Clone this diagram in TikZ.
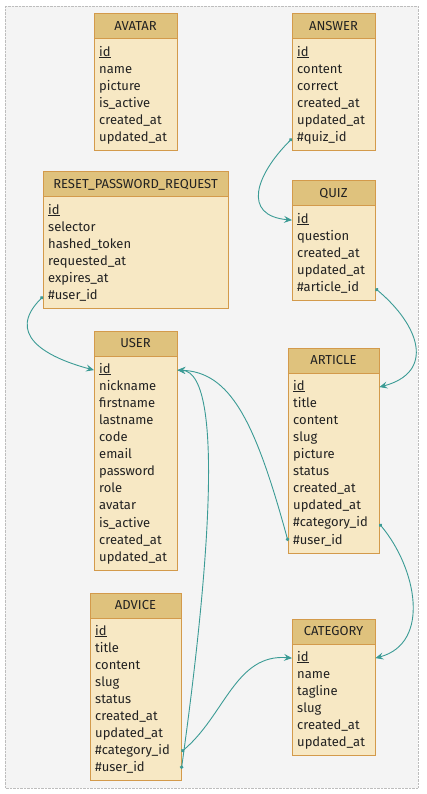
\documentclass[tikz,border=0pt]{standalone}
\usepackage{fontspec}
\setmainfont{Fira Sans}
\usetikzlibrary{arrows.meta}

\definecolor{erheadfill}{HTML}{DFC27D}
\definecolor{erbodyfill}{HTML}{F7E8C4}
\definecolor{erline}{HTML}{D39A4B}
\definecolor{ertext}{HTML}{222222}
\definecolor{linkc}{HTML}{3B9B95}
\definecolor{bgfill}{HTML}{F4F4F4}
\definecolor{bgline}{HTML}{BDBDBD}

\tikzset{
  erhead/.style={draw=erline, fill=erheadfill, line width=1pt, minimum height=25pt,
    inner sep=0pt, text=ertext, font=\fontsize{13}{15}\selectfont},
  erbody/.style={draw=erline, fill=erbodyfill, line width=1pt},
  errow/.style={anchor=west, inner xsep=5pt, inner ysep=0pt, minimum height=17.1pt,
    text height=9pt, text depth=3pt, align=left, text=ertext,
    font=\fontsize{13}{15}\selectfont},
  fk/.style={draw=linkc, line width=0.9pt,
    {Circle[length=3.5pt]}-{Stealth[length=8pt,width=7pt,inset=3pt]}}
}

% #1 name, #2 left, #3 top, #4 width, #5 title, #6 fields
\newcommand\ertable[6]{%
  \foreach \fld [count=\i] in {#6} {\xdef\ernrows{\i}}
  \pgfmathsetmacro\ertw{#4-10}
  \draw[erbody] (#2,#3+25) rectangle ++(#4,9+\ernrows*17.1);
  \node[erhead, minimum width=#4pt] (#1) at (#2+#4/2,#3+12.5) {#5};
  \foreach \fld [count=\i] in {#6}
    \node[errow, text width=\ertw pt] (#1-\i) at (#2,#3+39.1+\i*17.1-17.1) {\fld};
}

\begin{document}
\begin{tikzpicture}[x=1pt,y=-1pt]

\useasboundingbox (0,0) rectangle (426,794);
\draw[bgline, fill=bgfill, densely dotted] (5,6) rectangle (418,788);

\ertable{avatar}{94}{14}{83}{AVATAR}{\underline{id},name,picture,is\_active,created\_at,updated\_at}
\ertable{answer}{292}{14}{83}{ANSWER}{\underline{id},content,correct,created\_at,updated\_at,\#quiz\_id}
\ertable{reset}{43}{172}{185}{RESET\_PASSWORD\_REQUEST}{\underline{id},selector,hashed\_token,requested\_at,expires\_at,\#user\_id}
\ertable{quiz}{292}{181}{83}{QUIZ}{\underline{id},question,created\_at,updated\_at,\#article\_id}
\ertable{user}{94}{331}{83}{USER}{\underline{id},nickname,firstname,lastname,code,email,password,role,avatar,is\_active,created\_at,updated\_at}
\ertable{article}{288}{348}{91}{ARTICLE}{\underline{id},title,content,slug,picture,status,created\_at,updated\_at,\#category\_id,\#user\_id}
\ertable{advice}{90}{593}{91}{ADVICE}{\underline{id},title,content,slug,status,created\_at,updated\_at,\#category\_id,\#user\_id}
\ertable{category}{292}{619}{83}{CATEGORY}{\underline{id},name,tagline,slug,created\_at,updated\_at}

% foreign keys
\draw[fk] (answer-6.west) to[out=225,in=175,looseness=1.6] (quiz-1.west);
\draw[fk] (reset-6.west) to[out=225,in=165,looseness=1.5] (user-1.west);
\draw[fk] (quiz-5.east) to[out=-40,in=15,looseness=1.5] (article-1.east);
\draw[fk] (article-10.west) .. controls (255,420) and (230,372) .. (user-1.east);
\draw[fk] (advice-9.east) .. controls (205,600) and (228,372) .. (user-1.east);
\draw[fk] (article-9.east) to[out=-50,in=15,looseness=1.1] (category-1.east);
\draw[fk] (advice-8.east) to[out=40,in=175] (category-1.west);

\end{tikzpicture}
\end{document}
